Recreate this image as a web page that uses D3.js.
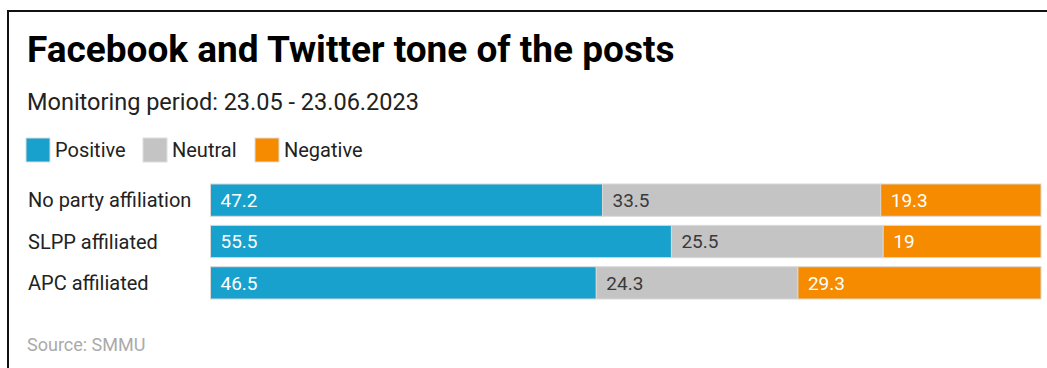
<!DOCTYPE html>
<html>
<head>
<meta charset="utf-8">
<script src="https://cdn.jsdelivr.net/npm/d3@7"></script>
<style>
  html, body { margin: 0; padding: 0; background: #fff; }
  svg { display: block; font-family: Roboto, "Noto Sans", sans-serif; }
</style>
</head>
<body>
<svg id="chart" width="1047" height="368"></svg>
<script>
// data
const categories = ["No party affiliation", "SLPP affiliated", "APC affiliated"];
const seriesNames = ["Positive", "Neutral", "Negative"];
const positive = [47.2, 55.5, 46.5];
const neutral = [33.5, 25.5, 24.3];
const negative = [19.3, 19, 29.3];
const colors = ["#18a1cd", "#c4c4c4", "#f68b00"];
const labelColors = ["#ffffff", "#3a3a3a", "#ffffff"];

const svg = d3.select("#chart");

// frame (left + top line)
svg.append("path")
  .attr("d", "M8,368 V11 H1047")
  .attr("fill", "none")
  .attr("stroke", "#111")
  .attr("stroke-width", 2);

// title & subtitle
svg.append("text")
  .attr("x", 27).attr("y", 62)
  .attr("font-size", 37).attr("font-weight", 700)
  .attr("fill", "#000")
  .text("Facebook and Twitter tone of the posts");

svg.append("text")
  .attr("x", 27).attr("y", 110)
  .attr("font-size", 23.5)
  .attr("fill", "#222")
  .text("Monitoring period: 23.05 - 23.06.2023");

// legend
const legendX = [26, 143, 255];
const legend = svg.append("g").selectAll("g")
  .data(seriesNames)
  .enter().append("g")
  .attr("transform", (d, i) => `translate(${legendX[i]},138)`);
legend.append("rect")
  .attr("width", 24).attr("height", 24)
  .attr("fill", (d, i) => colors[i])
  .attr("stroke", "#ddd").attr("stroke-width", 1);
legend.append("text")
  .attr("x", 29).attr("y", 19)
  .attr("font-size", 20).attr("fill", "#222")
  .text((d) => d);

// rows: stack normalised per row
const rows = categories.map((c, i) => ({
  name: c, Positive: positive[i], Neutral: neutral[i], Negative: negative[i]
}));
rows.forEach((r) => { r.total = r.Positive + r.Neutral + r.Negative; });

const stack = d3.stack().keys(seriesNames)
  .value((d, k) => d[k] / d.total * 100);
const layers = stack(rows);

const x = d3.scaleLinear().domain([0, 100]).range([210.5, 1041]);
const y = d3.scaleBand().domain(categories).range([184, 299]).paddingInner(0.22).paddingOuter(0);

// category labels
svg.append("g").selectAll("text")
  .data(categories)
  .enter().append("text")
  .attr("x", 28)
  .attr("y", (d) => y(d) + y.bandwidth() / 2)
  .attr("dy", "0.35em")
  .attr("font-size", 20).attr("fill", "#222")
  .text((d) => d);

// bars
const layer = svg.append("g").selectAll("g")
  .data(layers)
  .enter().append("g");

layer.selectAll("rect")
  .data((d) => d.map((v) => ({ v, key: d.key, idx: d.index })))
  .enter().append("rect")
  .attr("x", (d) => x(d.v[0]))
  .attr("y", (d) => y(d.v.data.name))
  .attr("width", (d) => x(d.v[1]) - x(d.v[0]))
  .attr("height", y.bandwidth())
  .attr("fill", (d) => colors[d.idx])
  .attr("stroke", "#d8d8d8").attr("stroke-width", 1);

layer.selectAll("text")
  .data((d) => d.map((v) => ({ v, key: d.key, idx: d.index })))
  .enter().append("text")
  .attr("x", (d) => x(d.v[0]) + 10)
  .attr("y", (d) => y(d.v.data.name) + y.bandwidth() / 2)
  .attr("dy", "0.35em")
  .attr("font-size", 19)
  .attr("fill", (d) => labelColors[d.idx])
  .text((d) => d.v.data[d.key]);

// source
svg.append("text")
  .attr("x", 27).attr("y", 351)
  .attr("font-size", 18).attr("fill", "#aaa")
  .text("Source: SMMU");
</script>
</body>
</html>
